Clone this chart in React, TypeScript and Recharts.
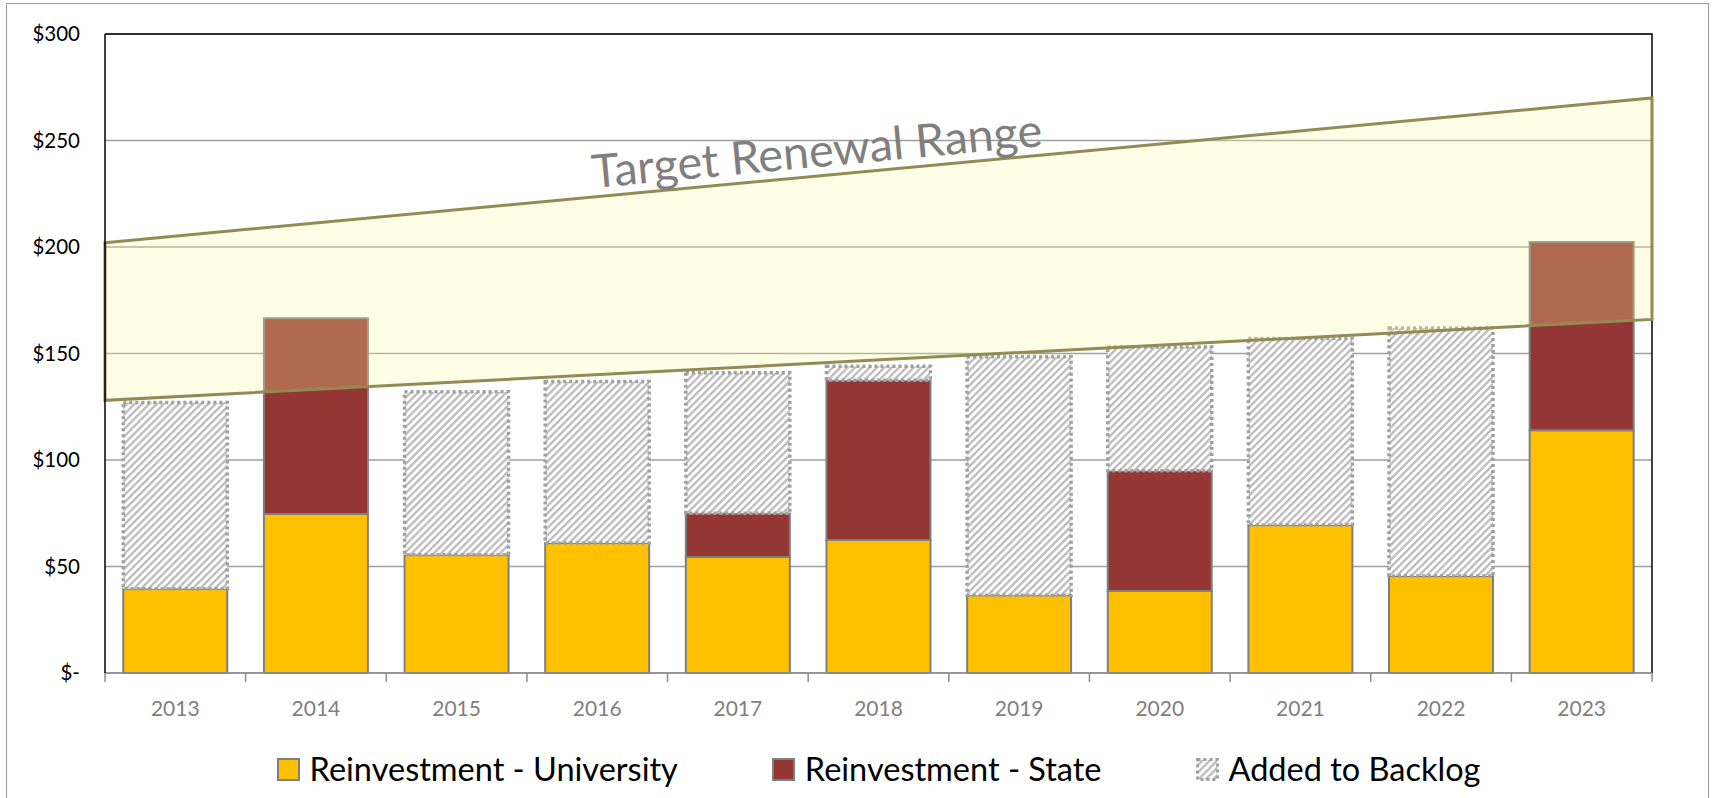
import React from 'react'
import { ComposedChart, Bar, XAxis, YAxis, CartesianGrid, ReferenceArea } from 'recharts'

const years = ['2013', '2014', '2015', '2016', '2017', '2018', '2019', '2020', '2021', '2022', '2023']
const university = [39.5, 74.6, 55.5, 61, 54.5, 62.5, 36.5, 38.5, 69.5, 45.5, 114]
const state = [0, 92, 0, 0, 20.5, 75, 0, 56.5, 0, 0, 88.3]
const backlog = [87.5, 0, 76.5, 75.8, 66, 6.5, 112, 58, 87.5, 116.5, 0]
const yTicks = [0, 50, 100, 150, 200, 250, 300]

// target renewal band, value at left edge and right edge of the plot
const rangeLow = [128, 166]
const rangeHigh = [202, 270]
const rangeLabel = 'Target Renewal Range'

const FONT = 'Lato, "Noto Sans", sans-serif'
const YELLOW = '#FFC000'
const RED = '#943634'
const BAR_EDGE = '#7F7F7F'
const HATCH_EDGE = '#A0A0A0'
const OLIVE = '#948A54'

const data = years.map((year, i) => ({
  year,
  university: university[i],
  state: state[i],
  backlog: backlog[i],
}))

const HatchDefs = ({ id }: { id: string }) => (
  <defs>
    <pattern id={id} patternUnits="userSpaceOnUse" width={5.2} height={5.2} patternTransform="rotate(45)">
      <rect width={5.2} height={5.2} fill="#fff" />
      <line x1={1.2} y1={0} x2={1.2} y2={5.2} stroke="#BBBBBB" strokeWidth={2.3} />
    </pattern>
  </defs>
)

const BandShape = (props: any) => {
  const { x, y, width, height } = props
  const lo = Math.min(...rangeLow)
  const hi = Math.max(...rangeHigh)
  const py = (v: number) => y + (height * (hi - v)) / (hi - lo)
  const pts = [
    [x, py(rangeHigh[0])],
    [x + width, py(rangeHigh[1])],
    [x + width, py(rangeLow[1])],
    [x, py(rangeLow[0])],
  ]
  const t = 0.4616
  const tx = x + width * t
  const ty = py(rangeHigh[0]) + (py(rangeHigh[1]) - py(rangeHigh[0])) * t
  const deg = (Math.atan2(py(rangeHigh[1]) - py(rangeHigh[0]), width) * 180) / Math.PI
  return (
    <g>
      <polygon
        points={pts.map(p => p.join(',')).join(' ')}
        fill="#FBF79F"
        fillOpacity={0.27}
        stroke={OLIVE}
        strokeWidth={3}
        strokeLinejoin="miter"
      />
      <text
        transform={`translate(${tx},${ty}) rotate(${deg})`}
        x={0}
        y={-9}
        textAnchor="middle"
        fontFamily={FONT}
        fontSize={46}
        fill="#7F7F7F"
        textLength={452}
        lengthAdjust="spacingAndGlyphs"
      >
        {rangeLabel}
      </text>
    </g>
  )
}

const FrameShape = (props: any) => {
  const { x, y, width, height } = props
  return (
    <path
      d={`M${x},${y} L${x + width},${y} L${x + width},${y + height}`}
      fill="none"
      stroke="#000"
      strokeWidth={1.5}
    />
  )
}

const XTick = (props: any) => {
  const { x, y, payload, index } = props
  const half = payload?.offset ?? 0
  return (
    <g>
      <line x1={x - half} y1={y} x2={x - half} y2={y + 9} stroke="#8C8C8C" strokeWidth={1.5} />
      {index === years.length - 1 && (
        <line x1={x + half} y1={y} x2={x + half} y2={y + 9} stroke="#8C8C8C" strokeWidth={1.5} />
      )}
      <text x={x} y={y + 34} textAnchor="middle" dominantBaseline="central" fontFamily={FONT} fontSize={21} fill="#7F7F7F">
        {payload.value}
      </text>
    </g>
  )
}

const LegendItem = ({ label, swatch }: { label: string; swatch: React.ReactNode }) => (
  <div style={{ display: 'flex', alignItems: 'center' }}>
    {swatch}
    <span style={{ marginLeft: 10, fontFamily: FONT, fontSize: 32.5, color: '#000', lineHeight: 1 }}>{label}</span>
  </div>
)

const solidSwatch = (fill: string) => (
  <div style={{ width: 19, height: 19, background: fill, border: `2px solid ${BAR_EDGE}` }} />
)

export default function App() {
  return (
    <div>
      <div
        style={{
          position: 'absolute',
          left: 6,
          top: 3,
          width: 1703,
          height: 820,
          border: '1.5px solid #9A9A9A',
          boxSizing: 'border-box',
        }}
      />
      <div style={{ position: 'absolute', left: 0, top: 0 }}>
        <ComposedChart
          width={1715}
          height={798}
          data={data}
          margin={{ top: 34, right: 63, left: 0, bottom: 65 }}
          barCategoryGap="13%"
        >
          <HatchDefs id="hatch" />
          <CartesianGrid vertical={false} stroke="#9E9E9E" strokeWidth={1.5} />
          <XAxis
            dataKey="year"
            height={60}
            tickSize={0}
            tickMargin={0}
            tickLine={false}
            axisLine={{ stroke: '#8C8C8C', strokeWidth: 1.5 }}
            tick={(p: any) => <XTick {...p} />}
            interval={0}
          />
          <YAxis
            domain={[0, 300]}
            ticks={yTicks}
            width={105}
            tickSize={0}
            tickMargin={25}
            axisLine={{ stroke: '#000', strokeWidth: 1.5 }}
            tickLine={false}
            tick={{ fontFamily: FONT, fontSize: 20.5, fill: '#000' }}
            tickFormatter={(v: number) => (v === 0 ? '$-' : `$${v}`)}
          />
          <ReferenceArea y1={0} y2={300} shape={<FrameShape />} ifOverflow="visible" />
          <Bar dataKey="university" stackId="a" fill={YELLOW} stroke={BAR_EDGE} strokeWidth={2} isAnimationActive={false} />
          <Bar dataKey="state" stackId="a" fill={RED} stroke={BAR_EDGE} strokeWidth={2} isAnimationActive={false} />
          <Bar
            dataKey="backlog"
            stackId="a"
            fill="url(#hatch)"
            stroke={HATCH_EDGE}
            strokeWidth={3.5}
            strokeDasharray="3 3"
            isAnimationActive={false}
          />
          <ReferenceArea
            y1={Math.min(...rangeLow)}
            y2={Math.max(...rangeHigh)}
            shape={<BandShape />}
            ifOverflow="visible"
            zIndex={350}
          />
        </ComposedChart>
      </div>
      <div
        style={{
          position: 'absolute',
          left: 105,
          top: 753,
          width: 1547,
          display: 'flex',
          justifyContent: 'center',
          gap: 94,
        }}
      >
        <LegendItem label="Reinvestment - University" swatch={solidSwatch(YELLOW)} />
        <LegendItem label="Reinvestment - State" swatch={solidSwatch(RED)} />
        <LegendItem
          label="Added to Backlog"
          swatch={
            <svg width={23} height={23}>
              <HatchDefs id="hatch-legend" />
              <rect x={1.5} y={1.5} width={20} height={20} fill="url(#hatch-legend)" stroke={HATCH_EDGE} strokeWidth={3} strokeDasharray="3 3" />
            </svg>
          }
        />
      </div>
    </div>
  )
}
